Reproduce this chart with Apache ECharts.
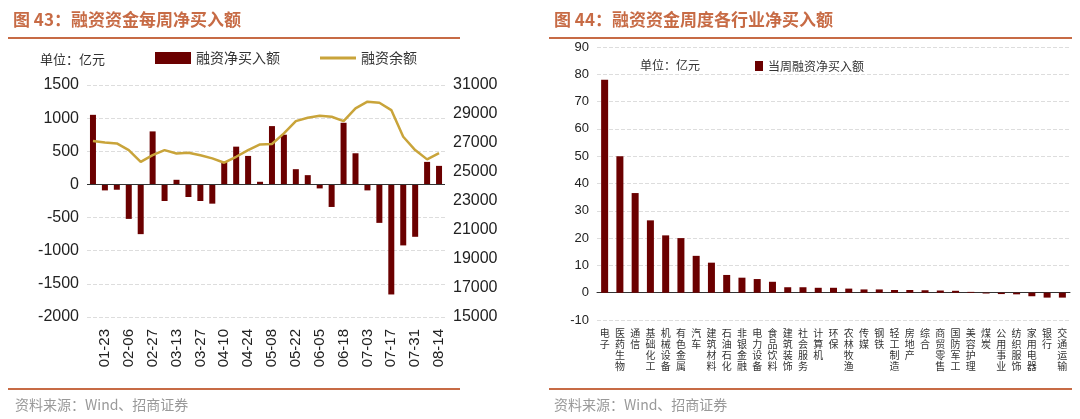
<!DOCTYPE html>
<html><head><meta charset="utf-8">
<script src="https://cdn.jsdelivr.net/npm/echarts@6/dist/echarts.min.js"></script>
<style>html,body{margin:0;padding:0;background:#fff}#c{width:1080px;height:419px}</style>
</head><body><div id="c"></div>
<script>
var weeks=['01-16','01-23','01-30','02-06','02-20','02-27','03-06','03-13','03-20','03-27','04-03','04-10','04-17','04-24','05-01','05-08','05-15','05-22','05-29','06-05','06-12','06-18','06-26','07-03','07-10','07-17','07-24','07-31','08-07','08-14'];
var netBuy=[1050,-90,-80,-520,-750,800,-250,70,-190,-250,-290,340,570,430,40,880,750,230,140,-60,-340,930,470,-90,-580,-1660,-920,-790,340,280];
var balance=[27130,27040,26970,26510,25700,26160,26510,26280,26330,26160,25940,25640,26050,26510,26900,26930,27660,28510,28740,28880,28810,28510,29390,29850,29780,29270,27430,26510,25870,26300];

var inds=['电子','医药生物','通信','基础化工','机械设备','有色金属','汽车','建筑材料','石油石化','非银金融','电力设备','食品饮料','建筑装饰','社会服务','计算机','环保','农林牧渔','传媒','钢铁','轻工制造','房地产','综合','商贸零售','国防军工','美容护理','煤炭','公用事业','纺织服饰','家用电器','银行','交通运输'];
var indBuy=[78,50,36.5,26.5,21,20,13.5,11,6.5,5.5,5,4,2,2,1.8,1.8,1.5,1.2,1.2,1,1,0.9,0.8,0.7,0.3,-0.3,-0.5,-0.6,-1.3,-1.8,-1.8];

var FONT='"Noto Sans CJK SC", sans-serif';
var NUM='"Liberation Sans", Arial, sans-serif';
var dark='#6B0000', gold='#C9A43A', accent='#C76B45';
function plain(v){return String(v);}
var chart=echarts.init(document.getElementById('c'));
chart.setOption({
  animation:false,
  textStyle:{fontFamily:FONT},
  title:[
    {text:'图 43：融资资金每周净买入额',left:8,top:6,textStyle:{color:accent,fontSize:17,fontWeight:'bold',fontFamily:FONT}},
    {text:'图 44：融资资金周度各行业净买入额',left:549,top:6,textStyle:{color:accent,fontSize:17,fontWeight:'bold',fontFamily:FONT}},
    {text:'资料来源：Wind、招商证券',left:10,top:393,textStyle:{color:'#999',fontSize:14,fontWeight:'normal',fontFamily:FONT}},
    {text:'资料来源：Wind、招商证券',left:549,top:393,textStyle:{color:'#999',fontSize:14,fontWeight:'normal',fontFamily:FONT}},
    {text:'单位：亿元',left:35,top:48,textStyle:{color:'#333',fontSize:13,fontWeight:'normal',fontFamily:FONT}},
    {text:'单位：亿元',left:635,top:54,textStyle:{color:'#333',fontSize:12,fontWeight:'normal',fontFamily:FONT}}
  ],
  graphic:[
    {type:'line',shape:{x1:8,y1:38,x2:460,y2:38},style:{stroke:accent,lineWidth:2}},
    {type:'line',shape:{x1:549,y1:38,x2:1072,y2:38},style:{stroke:accent,lineWidth:2}},
    {type:'line',shape:{x1:8,y1:389,x2:460,y2:389},style:{stroke:accent,lineWidth:2}},
    {type:'line',shape:{x1:549,y1:389,x2:1072,y2:389},style:{stroke:accent,lineWidth:2}}
  ],
  legend:[
    {data:[{name:'融资净买入额',icon:'rect'},{name:'融资余额',icon:'path://M0,0 L36,0 L36,3 L0,3 Z'}],left:150,top:46,itemGap:40,itemWidth:36,itemHeight:12,textStyle:{fontSize:14,color:'#333'}},
    {data:['当周融资净买入额'],left:750,top:55,itemWidth:8,itemHeight:10,icon:'rect',textStyle:{fontSize:12,color:'#333'}}
  ],
  grid:[
    {left:87,top:85,width:358,height:232},
    {left:597,top:47,width:473,height:273}
  ],
  xAxis:[
    {type:'category',gridIndex:0,data:weeks,axisTick:{show:false},axisLine:{show:false},
     axisLabel:{rotate:90,fontSize:15,color:'#222',fontFamily:NUM,margin:12,interval:function(i){return i%2===1;}}},
    {type:'category',gridIndex:1,data:inds,axisTick:{show:false},axisLine:{onZero:true,lineStyle:{color:'#333'}},
     axisLabel:{interval:0,fontSize:10,color:'#333',lineHeight:11,verticalAlign:'top',
       formatter:function(v){return v.split('').join('\n');}}}
  ],
  yAxis:[
    {type:'value',gridIndex:0,min:-2000,max:1500,interval:500,axisLabel:{fontSize:16,color:'#222',fontFamily:NUM,formatter:plain},
     splitLine:{lineStyle:{type:'dashed',color:'#ddd'}},axisLine:{show:false}},
    {type:'value',gridIndex:0,min:15000,max:31000,interval:2000,axisLabel:{fontSize:16,color:'#222',fontFamily:NUM,formatter:plain},
     splitLine:{show:false},axisLine:{show:false}},
    {type:'value',gridIndex:1,min:-10,max:90,interval:10,axisLabel:{fontSize:13,color:'#222',fontFamily:NUM,formatter:plain},
     splitLine:{lineStyle:{type:'dashed',color:'#ddd'}},axisLine:{show:false}}
  ],
  series:[
    {name:'融资净买入额',type:'bar',xAxisIndex:0,yAxisIndex:0,data:netBuy,barWidth:6,itemStyle:{color:dark},
     markLine:{silent:true,symbol:'none',label:{show:false},lineStyle:{color:'#333',type:'solid',width:1},data:[{yAxis:0}]}},
    {name:'融资余额',type:'line',xAxisIndex:0,yAxisIndex:1,data:balance,symbol:'none',lineStyle:{color:gold,width:2.5},itemStyle:{color:gold}},
    {name:'当周融资净买入额',type:'bar',xAxisIndex:1,yAxisIndex:2,data:indBuy,barWidth:7,itemStyle:{color:dark}}
  ]
});
</script></body></html>
